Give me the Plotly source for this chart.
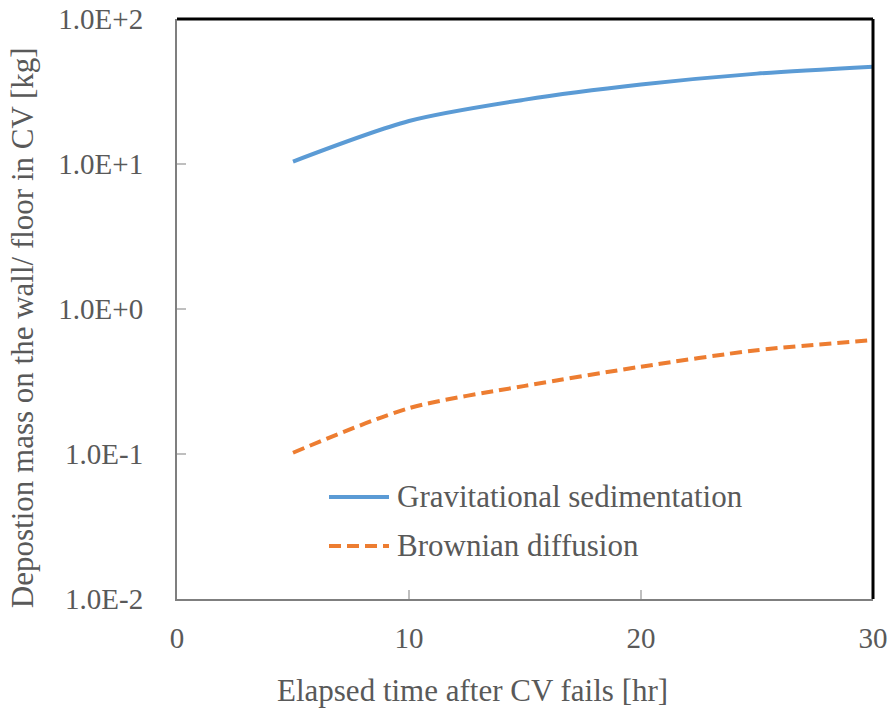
import plotly.graph_objects as go

# Elapsed time after containment vessel failure [hr]
time_hr = [5, 10, 15, 20, 25, 30]

# Deposited mass on wall / floor [kg]
gravitational = [10.4, 19.8, 27.8, 35.3, 42.0, 46.9]
brownian = [0.102, 0.207, 0.295, 0.400, 0.520, 0.610]

series_names = ["Gravitational sedimentation", "Brownian diffusion"]
series_colors = ["#5B9BD5", "#ED7D31"]

y_tickvals = [0.01, 0.1, 1, 10, 100]
y_ticktext = ["1.0E-2", "1.0E-1", "1.0E+0", "1.0E+1", "1.0E+2"]
x_tickvals = [0, 10, 20, 30]

x_title = "Elapsed time after CV fails [hr]"
y_title = "Depostion mass on the wall/ floor in CV [kg]"

FONT = "'Liberation Serif', 'Times New Roman', Times, serif"
TEXT = "#595959"

fig = go.Figure()
fig.add_trace(go.Scatter(
    x=time_hr, y=gravitational, mode="lines", name=series_names[0],
    line=dict(color=series_colors[0], width=4, shape="spline", smoothing=0.8),
    showlegend=False,
))
fig.add_trace(go.Scatter(
    x=time_hr, y=brownian, mode="lines", name=series_names[1],
    line=dict(color=series_colors[1], width=4, shape="spline", smoothing=0.8,
              dash="12px,6px"),
    showlegend=False,
))

# Legend drawn as line samples with labels inside the plot area
legend_rows = [(0.1759, "solid"), (0.0914, "12px,6px")]
for (yy, dash), name, color in zip(legend_rows, series_names, series_colors):
    fig.add_shape(type="line", xref="paper", yref="paper",
                  x0=0.2184, x1=0.3046, y0=yy, y1=yy,
                  line=dict(color=color, width=4, dash=dash))
    fig.add_annotation(xref="paper", yref="paper", x=0.3132, y=yy,
                       xanchor="left", yanchor="middle", showarrow=False,
                       text=name, font=dict(family=FONT, size=31, color=TEXT))

# Axis titles
fig.add_annotation(xref="paper", yref="paper", x=0.4239, y=-0.157,
                   xanchor="center", yanchor="middle", showarrow=False,
                   text=x_title, font=dict(family=FONT, size=31, color=TEXT))
fig.add_annotation(xref="paper", yref="paper", x=-0.2227, y=0.467,
                   xanchor="center", yanchor="middle", showarrow=False,
                   textangle=-90,
                   text=y_title, font=dict(family=FONT, size=31, color=TEXT))

# Black top and right borders of the plot frame
fig.add_shape(type="line", xref="paper", yref="paper", x0=0, x1=1, y0=1, y1=1,
              line=dict(color="black", width=3))
fig.add_shape(type="line", xref="paper", yref="paper", x0=1, x1=1, y0=0, y1=1,
              line=dict(color="black", width=3))

fig.update_layout(
    width=893, height=711,
    margin=dict(l=177, r=20, t=19, b=112, autoexpand=False),
    paper_bgcolor="white", plot_bgcolor="white",
    font=dict(family=FONT, size=29, color=TEXT),
)
fig.update_xaxes(
    range=[0, 30], tickvals=x_tickvals, automargin=False,
    showgrid=False, zeroline=False,
    showline=True, linecolor="#7f7f7f", linewidth=2,
    ticks="inside", ticklen=9, tickwidth=2, tickcolor="#bfbfbf",
    ticklabelstandoff=12,
    tickfont=dict(family=FONT, size=29, color=TEXT),
)
fig.update_yaxes(
    type="log", range=[-2, 2], tickvals=y_tickvals, ticktext=y_ticktext,
    automargin=False,
    showgrid=False, zeroline=False,
    showline=True, linecolor="#7f7f7f", linewidth=2,
    ticks="inside", ticklen=9, tickwidth=2, tickcolor="#bfbfbf",
    ticklabelstandoff=26,
    tickfont=dict(family=FONT, size=29, color=TEXT),
)

fig.write_html("out.html")
